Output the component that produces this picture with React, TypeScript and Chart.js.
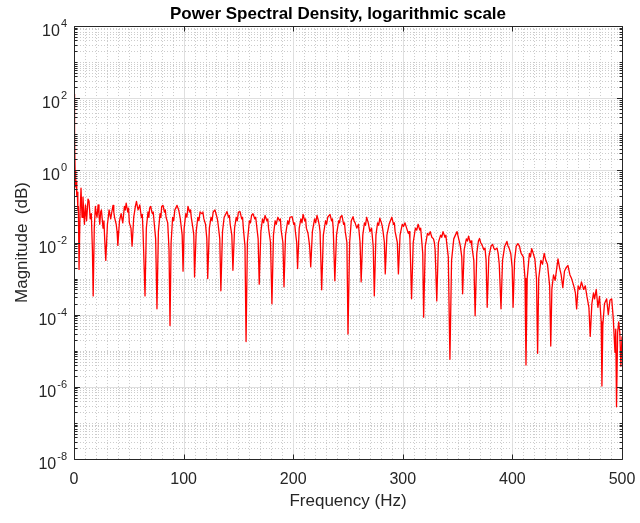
import React, { useEffect, useRef } from 'react';
import { Chart, registerables } from 'chart.js';

Chart.register(...registerables);

// Frequency (Hz) of each sample
const freqs = [
  0, 0.5, 1, 1.5, 2, 2.5, 3, 3.5, 4, 4.6,
  5.5, 6.4, 7.3, 8.2, 9.5, 10.5, 11.5, 12.8, 13.7, 14.8, 15.8, 16.8, 17.5,
  18.5, 19.5, 20.3, 21, 22, 22.8, 23.5, 24.3, 25, 26.5, 27.3, 28, 29,
  30.5, 31.3, 32, 33.5, 34.5, 35.6, 36.3, 37, 38.5, 39.3, 40,
  41.5, 43, 43.8, 44.5, 46, 46.8, 47.6, 49, 49.8, 50.5, 52, 53,
  54.5, 56, 57, 57.8, 58.5, 60, 60.8, 61.5, 62.3, 63, 64.8,
  66, 67.5, 68.3, 69, 70, 70.8, 71.5, 72.3, 73, 74.5, 75.7,
  77, 78.5, 79.3, 80, 81.2, 82.5, 83.3, 84, 85.5, 86.7, 87.6,
  88.6, 90, 91, 92, 94, 95.5, 96.3, 97, 98.7, 99.5,
  100.5, 102, 103, 104, 105.5, 106.3, 107, 108.5, 109.3, 110,
  111.5, 113, 114, 115, 116.8, 117.6, 118.5, 120, 121.2, 122,
  123.5, 125, 126, 127, 128.6, 130, 130.8, 131.5, 133, 134,
  135.5, 137, 138.3, 139.6, 141, 141.8, 142.5, 144, 145,
  146.5, 148, 149, 150, 151.5, 153, 153.8, 154.5, 156, 157,
  158.2, 160, 161, 162, 163.3, 165, 165.8, 166.5, 168, 169,
  170.5, 172, 173, 174.3, 176, 176.8, 177.5, 179.3, 180.6,
  182, 183.5, 184.5, 186, 187.5, 188.3, 189, 190.6, 191.6,
  193, 195, 196, 197, 199, 200.5, 201.3, 202, 203.2, 204,
  205.5, 207, 208, 209, 210.5, 211.3, 212, 213.5, 215, 216,
  217.5, 219.5, 220.5, 221.7, 223, 223.8, 224.5, 226,
  227.5, 229.5, 230.5, 231.5, 233.6, 235, 235.8, 236.5, 238,
  239.5, 241.5, 242.3, 243, 244.5, 246, 246.8, 247.5, 249, 250,
  251.5, 253, 254.6, 255.5, 256.5, 258, 259.5, 261, 262,
  263.5, 265, 266, 267, 268.5, 270, 271.5, 273, 274,
  275.5, 277, 278, 279, 280.5, 281.3, 282, 283.2, 284,
  285.5, 287.5, 288.7, 290, 291.5, 292.3, 293, 295, 296,
  297.5, 299.5, 300.7, 302, 303.5, 305, 305.8, 306.5, 308,
  309.5, 311.5, 312.7, 314, 315.5, 316.3, 317, 318.2, 319,
  320.5, 322.5, 323.7, 325, 326.5, 328, 328.8, 329.5, 331,
  332.5, 334.5, 335.5, 336.7, 338.5, 339.3, 340, 341.5, 343,
  344.5, 346.5, 348, 349.5, 351, 351.8, 352.5, 353.8, 354.6,
  356, 358, 359, 360, 361.5, 362.3, 363, 364.8, 366,
  367.5, 369, 370, 371, 372, 374, 375, 376, 377,
  378.5, 380.5, 382, 383, 384, 386, 387, 388, 389.6,
  391, 393, 395, 396, 397, 398.5, 399.8, 400.6,
  402, 403.5, 405, 406.5, 407.3, 408, 410, 411.5, 412.4,
  413.5, 415.5, 416.5, 417.6, 419, 420.5, 422, 423,
  424, 426, 427.5, 429, 430.5, 432, 434, 435,
  436, 437.5, 439, 441.6, 443, 444.5, 446,
  447.5, 449, 450.7, 452.5, 454, 456, 457.5, 458.6,
  460, 461.5, 463, 465, 466.5, 468, 469.8, 471,
  472.5, 474, 475, 476.5, 478, 479.5, 481, 481.7,
  482.5, 484, 486, 487.5, 489, 490.6, 492, 493.6,
  494.3, 495, 496, 497, 498, 499, 500,
];

// Power spectral density magnitude at each frequency above
const psd = [
  130, 8, 1.0, 0.35, 0.5, 0.2, 0.25, 0.08, 0.1, 1.8e-3,
  0.063, 0.32, 0.05, 0.18, 0.032, 0.11, 0.04, 0.16, 0.14, 0.045, 0.063, 6.3e-3, 3.3e-4,
  0.025, 0.1, 0.063, 0.05, 0.11, 0.06, 0.032, 0.07, 0.08, 0.025, 0.04, 0.0126, 3.2e-3,
  0.032, 0.05, 0.08, 0.045, 0.07, 0.107, 0.07, 0.05, 0.032, 0.02, 8.3e-3,
  0.04, 0.063, 0.045, 0.035, 0.1, 0.08, 0.123, 0.07, 0.09, 0.035, 0.025, 7.9e-3,
  0.05, 0.1, 0.138, 0.1, 0.08, 0.11, 0.07, 0.05, 0.06, 0.02, 3.3e-4,
  0.025, 0.07, 0.05, 0.09, 0.1, 0.075, 0.063, 0.07, 0.04, 0.0126, 1.45e-4,
  0.02, 0.063, 0.05, 0.1, 0.107, 0.07, 0.08, 0.05, 0.035, 6.3e-3, 5e-5,
  0.01, 0.05, 0.04, 0.08, 0.107, 0.08, 0.06, 0.045, 0.016, 1.6e-3,
  0.025, 0.063, 0.05, 0.1, 0.07, 0.08, 0.05, 0.025, 0.016, 1.1e-3,
  0.02, 0.05, 0.04, 0.07, 0.063, 0.07, 0.045, 0.032, 0.0126, 1e-3,
  0.025, 0.05, 0.04, 0.07, 0.08, 0.056, 0.045, 0.032, 0.0126, 4.6e-4,
  0.02, 0.05, 0.06, 0.072, 0.05, 0.056, 0.032, 0.016, 1.7e-3,
  0.025, 0.05, 0.04, 0.07, 0.072, 0.045, 0.05, 0.025, 7.9e-3, 1.8e-5,
  0.01, 0.04, 0.035, 0.056, 0.063, 0.045, 0.05, 0.032, 0.0126, 7e-4,
  0.02, 0.045, 0.035, 0.056, 0.04, 0.045, 0.025, 0.01, 2e-4,
  0.016, 0.04, 0.032, 0.05, 0.04, 0.045, 0.022, 0.01, 5.9e-4,
  0.016, 0.04, 0.032, 0.05, 0.052, 0.032, 0.035, 0.02, 0.01, 1.9e-3,
  0.025, 0.045, 0.035, 0.06, 0.04, 0.045, 0.025, 0.018, 7.9e-3, 2.1e-3,
  0.02, 0.045, 0.035, 0.056, 0.04, 0.03, 0.02, 4.9e-4,
  0.016, 0.04, 0.032, 0.05, 0.06, 0.04, 0.045, 0.025, 8.7e-4,
  0.016, 0.04, 0.035, 0.05, 0.056, 0.032, 0.035, 0.02, 0.01, 2.9e-5,
  0.01, 0.04, 0.052, 0.04, 0.035, 0.025, 0.032, 0.01, 8.1e-4,
  0.016, 0.035, 0.03, 0.05, 0.035, 0.02, 0.025, 7.9e-3, 3.3e-4,
  0.016, 0.035, 0.03, 0.047, 0.035, 0.028, 0.02, 0.01, 1.35e-3,
  0.016, 0.032, 0.04, 0.05, 0.032, 0.035, 0.02, 0.01, 1.35e-3,
  0.016, 0.032, 0.028, 0.035, 0.025, 0.018, 0.02, 0.0126, 2.75e-4,
  0.01, 0.025, 0.022, 0.032, 0.022, 0.025, 0.014, 5e-3, 8.5e-5,
  7.9e-3, 0.018, 0.016, 0.02, 0.014, 0.0126, 0.01, 6.3e-3, 2.4e-4,
  0.01, 0.016, 0.014, 0.02, 0.014, 0.016, 0.01, 4e-3, 5.8e-6,
  3.2e-3, 0.0126, 0.016, 0.02, 0.0126, 0.01, 7.9e-3, 4e-3, 3.8e-4,
  6.3e-3, 0.0126, 0.011, 0.015, 0.01, 0.011, 7.9e-3, 3.2e-3, 9.3e-5,
  5e-3, 0.011, 0.013, 0.01, 8.9e-3, 6.3e-3, 7e-3, 3.2e-3, 1.6e-4,
  4e-3, 7.9e-3, 8.9e-3, 7e-3, 6.3e-3, 7e-3, 5e-3, 2.5e-3, 1.45e-4,
  3.2e-3, 7.9e-3, 0.0107, 8e-3, 7e-3, 5e-3, 2e-3, 1.6e-4,
  3.2e-3, 7.9e-3, 9.3e-3, 7.9e-3, 6e-3, 5e-3, 4e-3, 1e-3, 4e-6,
  1e-3, 5e-3, 4e-3, 6.8e-3, 5e-3, 3.5e-3, 1e-3, 8.5e-6,
  1e-3, 3.2e-3, 2.5e-3, 5e-3, 3.2e-3, 2.5e-3, 6.3e-4, 1.35e-5,
  5e-4, 1.26e-3, 8.9e-4, 3.5e-3, 2e-3, 1.26e-3, 5.6e-4,
  1.6e-3, 2e-3, 2.3e-3, 1.26e-3, 1e-3, 6.3e-4, 4e-4, 1.45e-4,
  6.3e-4, 5e-4, 8.1e-4, 5e-4, 6.3e-4, 3.2e-4, 1.6e-4, 2.5e-5,
  2e-4, 4e-4, 2.75e-4, 5e-4, 1.6e-4, 3.2e-4, 6.3e-5, 1.05e-6,
  5e-5, 2e-4, 2.75e-4, 1e-4, 2.5e-4, 2.75e-4, 8e-5, 9.1e-6,
  4e-5, 2.8e-7, 3.2e-5, 6.3e-5, 3.2e-5, 3.7e-6, 2.5e-5,
];

const xTicks = [0, 100, 200, 300, 400, 500];
const yExponents = [-8, -6, -4, -2, 0, 2, 4];
const titleText = 'Power Spectral Density, logarithmic scale';
const xLabelText = 'Frequency (Hz)';
const yLabelText = 'Magnitude  (dB)';

const FONT = '"Liberation Sans", Arial, Helvetica, sans-serif';
const TEXT = '#262626';

const crisp = (v: number) => Math.round(v) + 0.5;

const decor = {
  id: 'decor',
  beforeDatasetsDraw(chart: any) {
    const { ctx, chartArea: a, scales } = chart;
    const xs = scales.x;
    const ys = scales.y;
    ctx.save();
    ctx.lineWidth = 1;
    // minor grid (dotted)
    ctx.strokeStyle = '#cccccc';
    ctx.setLineDash([1, 2]);
    ctx.beginPath();
    for (let f = 10; f < 500; f += 10) {
      if (f % 100 === 0) continue;
      const px = crisp(xs.getPixelForValue(f));
      ctx.moveTo(px, a.top);
      ctx.lineTo(px, a.bottom);
    }
    for (let e = -8; e < 4; e++) {
      for (let m = 1; m < 10; m++) {
        if (m === 1 && e % 2 === 0) continue;
        const py = crisp(ys.getPixelForValue(m * Math.pow(10, e)));
        ctx.moveTo(a.left, py);
        ctx.lineTo(a.right, py);
      }
    }
    ctx.stroke();
    // major grid (solid)
    ctx.setLineDash([]);
    ctx.strokeStyle = '#dfdfdf';
    ctx.beginPath();
    xTicks.forEach((f) => {
      const px = crisp(xs.getPixelForValue(f));
      ctx.moveTo(px, a.top);
      ctx.lineTo(px, a.bottom);
    });
    yExponents.forEach((e) => {
      const py = crisp(ys.getPixelForValue(Math.pow(10, e)));
      ctx.moveTo(a.left, py);
      ctx.lineTo(a.right, py);
    });
    ctx.stroke();
    ctx.restore();
  },
  afterDatasetsDraw(chart: any) {
    const { ctx, chartArea: a, scales } = chart;
    const xs = scales.x;
    const ys = scales.y;
    const L = crisp(a.left);
    const R = crisp(a.right);
    const T = crisp(a.top);
    const B = crisp(a.bottom);
    ctx.save();
    ctx.strokeStyle = TEXT;
    ctx.lineWidth = 1;
    ctx.beginPath();
    ctx.rect(L, T, R - L, B - T);
    xTicks.forEach((f) => {
      const px = crisp(xs.getPixelForValue(f));
      ctx.moveTo(px, B);
      ctx.lineTo(px, B - 5);
      ctx.moveTo(px, T);
      ctx.lineTo(px, T + 5);
    });
    for (let e = -8; e <= 4; e++) {
      for (let m = 1; m < 10; m++) {
        if (e === 4 && m > 1) break;
        const major = m === 1 && e % 2 === 0;
        const len = major ? 5.5 : 3;
        const py = crisp(ys.getPixelForValue(m * Math.pow(10, e)));
        ctx.moveTo(L, py);
        ctx.lineTo(L + len, py);
        ctx.moveTo(R, py);
        ctx.lineTo(R - len, py);
      }
    }
    ctx.stroke();

    ctx.fillStyle = TEXT;
    // x tick labels
    ctx.font = `16px ${FONT}`;
    ctx.textAlign = 'center';
    ctx.textBaseline = 'alphabetic';
    xTicks.forEach((f) => {
      ctx.fillText(String(f), xs.getPixelForValue(f), a.bottom + 25);
    });
    // y tick labels 10^e
    const rightEdge = a.left - 7;
    yExponents.forEach((e) => {
      const py = ys.getPixelForValue(Math.pow(10, e));
      const sup = String(e);
      ctx.font = `11px ${FONT}`;
      const ws = ctx.measureText(sup).width;
      ctx.font = `16px ${FONT}`;
      const wb = ctx.measureText('10').width;
      ctx.textAlign = 'left';
      ctx.fillText('10', rightEdge - ws - wb - 1, py + 10);
      ctx.font = `11px ${FONT}`;
      ctx.fillText(sup, rightEdge - ws, py + 1);
    });
    // axis labels
    ctx.font = `17px ${FONT}`;
    ctx.textAlign = 'center';
    ctx.fillText(xLabelText, (a.left + a.right) / 2, a.bottom + 47);
    ctx.save();
    ctx.translate(22, (a.top + a.bottom) / 2);
    ctx.rotate(-Math.PI / 2);
    ctx.textBaseline = 'middle';
    ctx.fillText(yLabelText, 0, 0);
    ctx.restore();
    // title
    ctx.font = `bold 17px ${FONT}`;
    ctx.fillStyle = '#000000';
    ctx.textAlign = 'center';
    ctx.textBaseline = 'alphabetic';
    ctx.fillText(titleText, (a.left + a.right) / 2 - 10, 19);
    ctx.restore();
  },
};

export default function App() {
  const ref = useRef<HTMLCanvasElement>(null);
  useEffect(() => {
    document.body.style.margin = '0';
    if (!ref.current) return;
    const chart = new Chart(ref.current, {
      type: 'line',
      data: {
        datasets: [
          {
            data: freqs.map((f, i) => ({ x: f, y: psd[i] })),
            borderColor: '#ff0000',
            borderWidth: 1.3,
            pointRadius: 0,
            tension: 0,
            fill: false,
            borderJoinStyle: 'round',
          },
        ],
      },
      options: {
        animation: false,
        responsive: false,
        maintainAspectRatio: false,
        events: [],
        layout: { padding: { left: 0, right: 18, top: 26, bottom: 0 } },
        plugins: {
          legend: { display: false },
          title: { display: false },
          tooltip: { enabled: false },
        },
        scales: {
          x: {
            type: 'linear',
            min: 0,
            max: 500,
            grid: { display: false },
            border: { display: false },
            ticks: { display: false },
            afterFit: (s: any) => {
              s.height = 64;
            },
          },
          y: {
            type: 'logarithmic',
            min: 1e-8,
            max: 1e4,
            grid: { display: false },
            border: { display: false },
            ticks: { display: false },
            afterFit: (s: any) => {
              s.width = 74;
            },
          },
        },
      },
      plugins: [decor],
    } as any);
    return () => chart.destroy();
  }, []);
  return (
    <div style={{ position: 'absolute', left: 0, top: 0, width: 640, height: 523, background: '#ffffff' }}>
      <canvas ref={ref} width={640} height={523} style={{ display: 'block' }} />
    </div>
  );
}
